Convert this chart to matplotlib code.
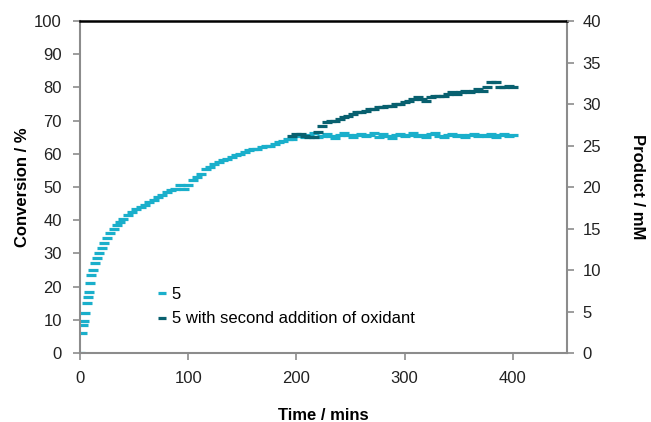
import matplotlib
matplotlib.use("Agg")
import matplotlib.pyplot as plt

plt.rcParams['font.family'] = ['Liberation Sans', 'DejaVu Sans']

# series "5" (conversion %)
t1 = [0, 2, 3, 4, 5, 6, 7, 8, 9, 10, 12, 14, 16, 18, 20, 22, 25, 28, 31, 34, 37,
      40, 44, 48, 52, 56, 60, 64, 68, 72, 76, 80, 84, 88, 92, 96, 100, 104, 108,
      112, 116, 120, 124, 128, 132, 136, 140, 144, 148, 152, 156, 160, 164, 168,
      172, 176, 180, 184, 188, 192, 196, 200,
      204, 208, 212, 216, 220, 224, 228, 232, 236, 240, 244, 248, 252, 256, 260,
      264, 268, 272, 276, 280, 284, 288, 292, 296, 300, 304, 308, 312, 316, 320,
      324, 328, 332, 336, 340, 344, 348, 352, 356, 360, 364, 368, 372, 376, 380,
      384, 388, 392, 396, 400]
conv1 = [0, 6, 8.5, 9.5, 12, 15, 17, 18.5, 21, 23.5, 25, 27, 28.5, 30, 31.5, 33, 34.5, 36, 37.5, 38.5, 39.5,
         40.5, 41.5, 42.5, 43.5, 44, 44.5, 45.5, 46, 47, 47.5, 48.5, 49, 49.5, 50.5, 49.5, 50.5, 52, 53,
         54, 55.5, 56, 57, 57.5, 58, 58.5, 59, 59.5, 60, 60.5, 61, 61.5, 61.5, 62,
         62.5, 62.5, 63, 63.5, 64, 64.5, 64.5, 65.5,
         65.8, 65.2, 65.6, 66.2, 65.0, 65.5, 65.9, 65.3, 64.8, 65.7, 66.3, 65.6, 65.1, 65.8, 66.0,
         65.4, 65.7, 66.4, 65.2, 65.9, 65.5, 64.9, 65.6, 66.1, 65.3, 65.8, 66.2, 65.4, 65.7, 65.1,
         65.9, 66.3, 65.5, 65.2, 65.8, 66.0, 65.4, 65.7, 65.0, 65.6, 66.1, 65.3, 65.8, 65.5, 65.9,
         65.2, 65.6, 66.0, 65.4, 65.7]

# series "5 with second addition of oxidant"
t2 = [196, 200, 204, 208, 212, 216, 220, 224, 228, 232, 236, 240, 244, 248, 252, 256,
      260, 264, 268, 272, 276, 280, 284, 288, 292, 296, 300, 304, 308, 312, 316, 320,
      324, 328, 332, 336, 340, 344, 348, 352, 356, 360, 364, 368, 372, 376, 380, 384,
      388, 392, 396, 400]
conv2 = [65.5, 66, 66, 65.5, 65, 65, 66.5, 68.5, 69.5, 70, 70, 70.5, 71, 71.5, 72, 72.5,
         72.5, 73, 73.5, 73.5, 74, 74, 74.5, 74.5, 75, 75, 75.5, 76, 76.5, 77, 76.5, 76,
         77, 77.5, 77.5, 77.5, 78, 78.5, 78, 78.5, 79, 78.5, 79, 79.5, 79, 80, 81.5, 81.5,
         80, 80, 80.5, 80]

labels = ['5', '5 with second addition of oxidant']
colors = ['#1aafcb', '#08606f']
grey = '#8c8c8c'

fig = plt.figure(figsize=(6.51, 4.22), dpi=100)
ax = fig.add_axes([0.1229, 0.1635, 0.7481, 0.7867])

ax.plot(t1, conv1, linestyle='none', marker='_', ms=7, mew=2.3, color=colors[0], label=labels[0])
ax.plot(t2, conv2, linestyle='none', marker='_', ms=7, mew=2.3, color=colors[1], label=labels[1])

ax.set_xlim(0, 450)
ax.set_ylim(0, 100)
ax.set_xticks([0, 100, 200, 300, 400])
ax.set_yticks(range(0, 101, 10))
for s in ['left', 'bottom', 'right']:
    ax.spines[s].set_color(grey)
    ax.spines[s].set_linewidth(1.5)
ax.spines['top'].set_color('black')
ax.spines['top'].set_linewidth(1.8)
ax.tick_params(axis='both', direction='out', length=5, width=1.2, color=grey,
               labelsize=12, labelcolor='#222222')
ax.tick_params(axis='y', pad=8)
ax.tick_params(axis='x', pad=8)

ax2 = ax.twinx()
ax2.set_ylim(0, 40)
ax2.set_yticks(range(0, 41, 5))
for s in ax2.spines.values():
    s.set_visible(False)
ax2.tick_params(axis='y', direction='out', length=5, width=1.2, color=grey,
                labelsize=12, labelcolor='#222222', pad=6)

ax.set_xlabel('Time / mins', fontsize=12, fontweight='bold', labelpad=16)
ax.set_ylabel('Conversion / %', fontsize=12, fontweight='bold', labelpad=3)
ax2.set_ylabel('Product / mM', fontsize=12, fontweight='bold', rotation=270, labelpad=32)

leg = ax.legend(loc='lower left', bbox_to_anchor=(0.13, 0.035), frameon=False,
                fontsize=12, handlelength=0.5, handletextpad=0.3, labelspacing=0.55,
                numpoints=1, markerscale=0.8)

fig.savefig('out.png', dpi=100)
